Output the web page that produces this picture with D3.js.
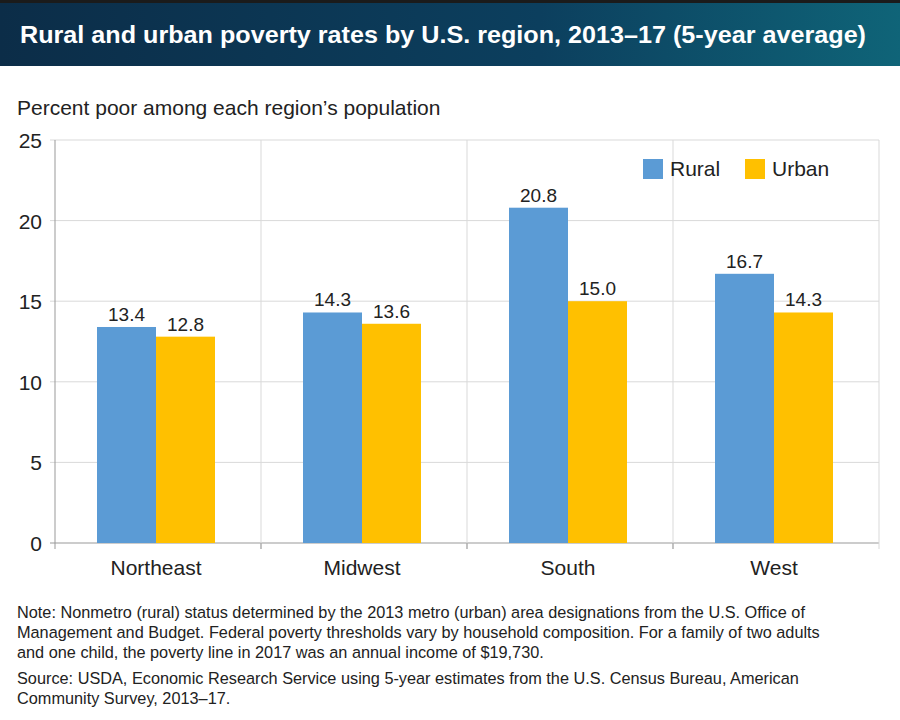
<!DOCTYPE html>
<html><head><meta charset="utf-8">
<script src="https://cdn.jsdelivr.net/npm/d3@7"></script>
<style>body{margin:0;background:#fff}text{font-family:"Liberation Sans",Arial,sans-serif}</style>
</head><body><svg id="c" width="900" height="720"></svg>
<script>
const regions=["Northeast","Midwest","South","West"];
const series=["Rural","Urban"];
const rural=[13.4,14.3,20.8,16.7];
const urban=[12.8,13.6,15.0,14.3];
const yTicks=[0,5,10,15,20,25];
const colors=["#5B9BD5","#FFC000"];

const svg=d3.select("#c");
const defs=svg.append("defs");
const g=defs.append("linearGradient").attr("id","hg").attr("x1","0").attr("x2","1");
g.append("stop").attr("offset","0").attr("stop-color","#0c2d48");
g.append("stop").attr("offset","0.6").attr("stop-color","#0c3f5e");
g.append("stop").attr("offset","1").attr("stop-color","#0f6478");
svg.append("rect").attr("width",900).attr("height",66).attr("fill","url(#hg)");
svg.append("rect").attr("width",900).attr("height",3).attr("fill","#1b1b1b");
svg.append("text").attr("x",20).attr("y",43).attr("fill","#fff").attr("font-size",24).attr("font-weight","bold")
 .attr("textLength",846).attr("lengthAdjust","spacingAndGlyphs")
 .text("Rural and urban poverty rates by U.S. region, 2013–17 (5-year average)");
svg.append("text").attr("x",17).attr("y",115).attr("font-size",21).attr("fill","#222")
 .text("Percent poor among each region’s population");

const L=55,R=879,T=140,B=543;
const x=d3.scaleBand().domain(regions).range([L,R]);
const xs=d3.scaleBand().domain(series).range([0,118]);
const y=d3.scaleLinear().domain([0,25]).range([B,T]);

svg.append("g").selectAll("line").data(yTicks).join("line")
 .attr("x1",L-5).attr("x2",R).attr("y1",d=>y(d)).attr("y2",d=>y(d))
 .attr("stroke",d=>d===0?"#999":"#d9d9d9");
svg.append("g").selectAll("text").data(yTicks).join("text")
 .attr("x",42).attr("y",d=>y(d)+8).attr("text-anchor","end").attr("font-size",21).attr("fill","#222").text(d=>d);
svg.append("line").attr("x1",L).attr("x2",L).attr("y1",T).attr("y2",B).attr("stroke","#999");
svg.append("g").selectAll("line").data(regions).join("line")
 .attr("x1",d=>x(d)+x.bandwidth()).attr("x2",d=>x(d)+x.bandwidth()).attr("y1",T).attr("y2",B+6).attr("stroke","#d9d9d9");
svg.append("g").selectAll("line").data(regions).join("line")
 .attr("x1",d=>x(d)).attr("x2",d=>x(d)).attr("y1",B).attr("y2",B+6).attr("stroke","#999");

const data=regions.flatMap((r,i)=>[{r,s:"Rural",v:rural[i]},{r,s:"Urban",v:urban[i]}]);
const off=(x.bandwidth()-118)/2-2;
const gb=svg.append("g");
gb.selectAll("rect").data(data).join("rect")
 .attr("x",d=>x(d.r)+off+xs(d.s)).attr("width",xs.bandwidth())
 .attr("y",d=>y(d.v)).attr("height",d=>B-y(d.v)).attr("fill",d=>colors[series.indexOf(d.s)]);
gb.selectAll("text").data(data).join("text")
 .attr("x",d=>x(d.r)+off+xs(d.s)+xs.bandwidth()/2).attr("y",d=>y(d.v)-6)
 .attr("text-anchor","middle").attr("font-size",19).attr("fill","#222").text(d=>d.v.toFixed(1));
svg.append("g").selectAll("text").data(regions).join("text")
 .attr("x",d=>x(d)+x.bandwidth()/2-2).attr("y",575).attr("text-anchor","middle").attr("font-size",21).attr("fill","#222").text(d=>d);

const lg=svg.append("g");
[643,745].forEach((lx,i)=>{
 lg.append("rect").attr("x",lx).attr("y",159).attr("width",20).attr("height",20).attr("fill",colors[i]);
 lg.append("text").attr("x",lx+27).attr("y",176).attr("font-size",21).attr("fill","#222").text(series[i]);
});

const notes=["Note: Nonmetro (rural) status determined by the 2013 metro (urban) area designations from the U.S. Office of",
"Management and Budget. Federal poverty thresholds vary by household composition. For a family of two adults",
"and one child, the poverty line in 2017 was an annual income of $19,730.",
"Source: USDA, Economic Research Service using 5-year estimates from the U.S. Census Bureau, American",
"Community Survey, 2013–17."];
const ny=[618,638,658,684,704];
svg.append("g").selectAll("text").data(notes).join("text")
 .attr("x",17).attr("y",(d,i)=>ny[i]).attr("font-size",16.3).attr("fill","#222").text(d=>d);
</script></body></html>
